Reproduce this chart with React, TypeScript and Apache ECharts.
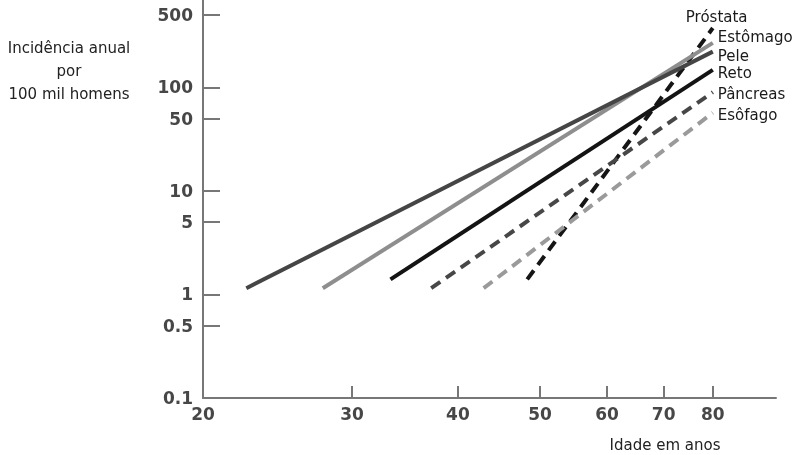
import { useEffect, useRef } from 'react';
import * as echarts from 'echarts';

// Incidência anual de câncer em homens, por idade (escalas log-log)
const cancers = ['Próstata', 'Estômago', 'Pele', 'Reto', 'Pâncreas', 'Esôfago'];
// idade no início e no fim de cada reta
const ages = [
    [48.3, 80],
    [27.7, 80],
    [22.5, 80],
    [33.3, 80],
    [37.2, 80],
    [42.9, 80],
];
// incidência no início e no fim de cada reta
const rates = [
    [1.4, 375],
    [1.15, 270],
    [1.15, 222],
    [1.4, 148],
    [1.15, 90],
    [1.15, 57],
];
const yTicks = [0.1, 0.5, 1, 5, 10, 50, 100, 500];
const xTicks = [20, 30, 40, 50, 60, 70, 80];

const DASH = [11, 7];
const lineStyles = [
    { color: '#151515', type: DASH, offset: [-32, -11] },
    { color: '#8e8e8e', type: 'solid', offset: [0, -6] },
    { color: '#454545', type: 'solid', offset: [0, 4] },
    { color: '#141414', type: 'solid', offset: [0, 3] },
    { color: '#474747', type: DASH, offset: [0, 2] },
    { color: '#9a9a9a', type: DASH, offset: [0, 2] },
];

const FONT = 'DejaVu Sans';
const axisColor = '#777';

const App = () => {
    const chartRef = useRef<HTMLDivElement | null>(null);

    useEffect(() => {
        const myChart = echarts.init(chartRef.current!, null, { renderer: 'svg' });

        const option: echarts.EChartsOption = {
            animation: false,
            title: [
                {
                    text: 'Incidência anual\npor\n100 mil homens',
                    left: 64,
                    top: 31,
                    textAlign: 'center',
                    textStyle: {
                        fontFamily: FONT,
                        fontSize: 15,
                        fontWeight: 'normal',
                        color: '#222',
                        lineHeight: 23,
                    },
                },
                {
                    text: 'Idade em anos',
                    left: 660,
                    top: 432,
                    textAlign: 'center',
                    textStyle: {
                        fontFamily: FONT,
                        fontSize: 15,
                        fontWeight: 'normal',
                        color: '#222',
                    },
                },
            ],
            grid: { left: 203, right: 18, top: 0, bottom: 57, containLabel: false },
            xAxis: {
                type: 'log',
                logBase: 10,
                min: 20,
                max: 95,
                axisLine: { show: true, lineStyle: { color: axisColor, width: 2 } },
                axisTick: {
                    show: true,
                    inside: true,
                    length: 12,
                    customValues: xTicks.slice(1),
                    lineStyle: { color: axisColor, width: 2 },
                },
                axisLabel: {
                    customValues: xTicks,
                    margin: 7,
                    fontFamily: FONT,
                    fontSize: 17,
                    fontWeight: 'bold',
                    color: '#474747',
                    formatter: (v: number) => String(v),
                },
                splitLine: { show: false },
                minorTick: { show: false },
            },
            yAxis: {
                type: 'log',
                logBase: 10,
                min: 0.1,
                max: 700,
                axisLine: { show: true, lineStyle: { color: axisColor, width: 2 } },
                axisTick: {
                    show: true,
                    inside: true,
                    length: 17,
                    customValues: yTicks,
                    lineStyle: { color: axisColor, width: 2 },
                },
                axisLabel: {
                    customValues: yTicks,
                    margin: 10,
                    fontFamily: FONT,
                    fontSize: 17,
                    fontWeight: 'bold',
                    color: '#474747',
                    formatter: (v: number) => String(v),
                },
                splitLine: { show: false },
                minorTick: { show: false },
            },
            series: cancers.map((name, i) => ({
                name,
                type: 'line',
                symbol: 'none',
                silent: true,
                data: ages[i].map((age, j) => [age, rates[i][j]]),
                lineStyle: {
                    color: lineStyles[i].color,
                    width: 4,
                    type: lineStyles[i].type as any,
                    cap: 'butt',
                },
                endLabel: {
                    show: true,
                    formatter: '{a}',
                    distance: 5,
                    offset: lineStyles[i].offset,
                    fontFamily: FONT,
                    fontSize: 15,
                    color: '#1a1a1a',
                },
            })),
        };

        myChart.setOption(option);

        return () => {
            myChart.dispose();
        };
    }, []);

    return (
        <div
            ref={chartRef}
            style={{ position: 'fixed', left: 0, top: 0, width: 794, height: 455 }}
        />
    );
};

export default App;
